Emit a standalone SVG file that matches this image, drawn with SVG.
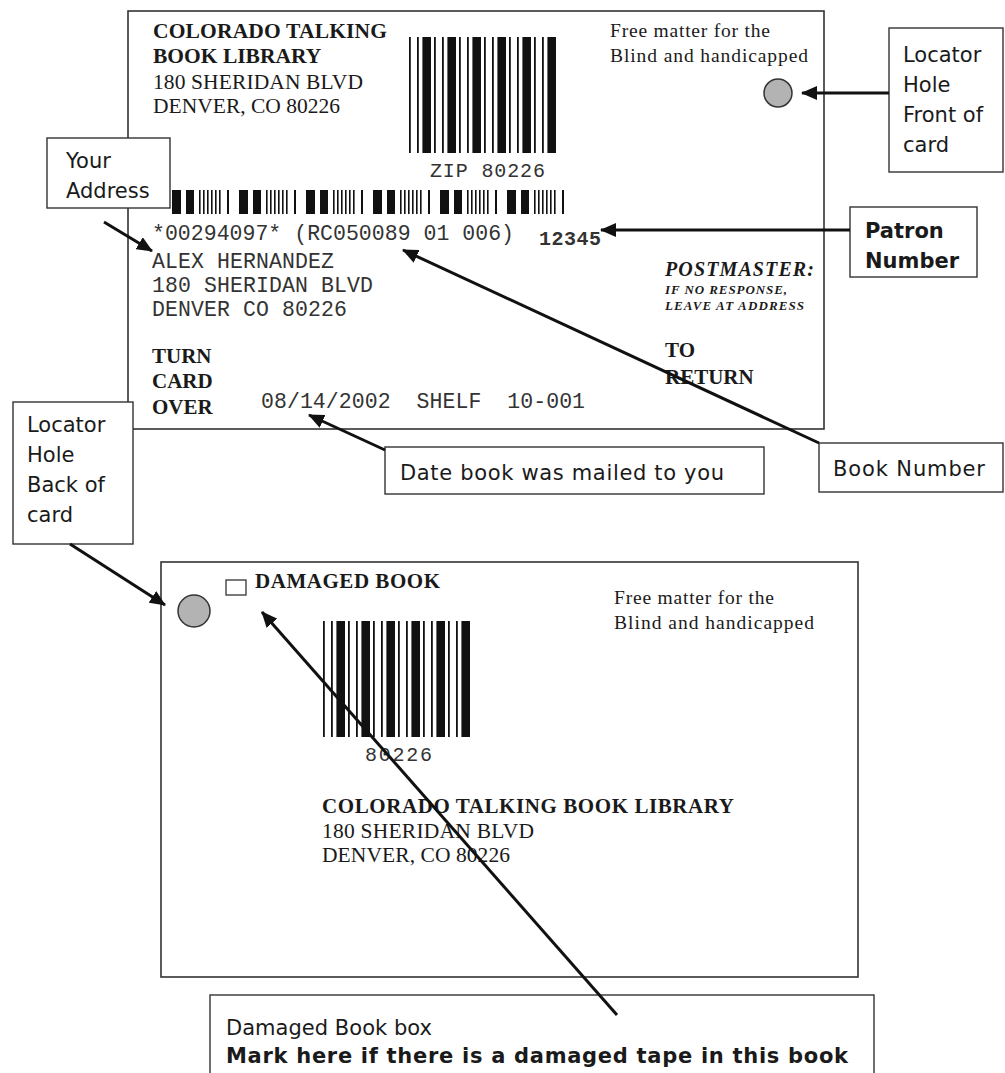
<svg xmlns="http://www.w3.org/2000/svg" xmlns:xlink="http://www.w3.org/1999/xlink" width="1005" height="1073" viewBox="0 0 1005 1073">
<style>
.card{fill:#fff;stroke:#333;stroke-width:1.6}
.box{fill:#fff;stroke:#333;stroke-width:1.4}
.serif{font-family:"Liberation Serif","Times New Roman",serif;fill:#1a1a1a}
.b{font-weight:bold}
.bi{font-weight:bold;font-style:italic}
.mono{font-family:"Liberation Mono","Courier New",monospace;fill:#333}
.sans{font-family:"DejaVu Sans","Noto Sans",sans-serif;fill:#1a1a1a;font-size:21px}
.hole{fill:#b3b3b3;stroke:#333;stroke-width:1.5}
.conn{stroke:#111;stroke-width:3;fill:none;marker-end:url(#ah)}
.bar{fill:#111}
</style>
<defs>
<marker id="ah" markerUnits="userSpaceOnUse" markerWidth="18" markerHeight="14" refX="15" refY="7" orient="auto">
<path d="M0,0 L16,7 L0,14 z" fill="#111"/>
</marker>
<g id="bc">
<rect class="bar" x="0" y="0" width="1.8" height="116"/><rect class="bar" x="8" y="0" width="1.8" height="116"/><rect class="bar" x="13.4" y="0" width="8.6" height="116"/>
<rect class="bar" x="25" y="0" width="1.8" height="116"/><rect class="bar" x="33" y="0" width="1.8" height="116"/><rect class="bar" x="38.4" y="0" width="8.6" height="116"/>
<rect class="bar" x="50" y="0" width="1.8" height="116"/><rect class="bar" x="58" y="0" width="1.8" height="116"/><rect class="bar" x="63.4" y="0" width="8.6" height="116"/>
<rect class="bar" x="75" y="0" width="1.8" height="116"/><rect class="bar" x="83" y="0" width="1.8" height="116"/><rect class="bar" x="88.4" y="0" width="8.6" height="116"/>
<rect class="bar" x="100" y="0" width="1.8" height="116"/><rect class="bar" x="108" y="0" width="1.8" height="116"/><rect class="bar" x="113.4" y="0" width="8.6" height="116"/>
<rect class="bar" x="125" y="0" width="1.8" height="116"/><rect class="bar" x="133" y="0" width="1.8" height="116"/><rect class="bar" x="138.4" y="0" width="8.6" height="116"/>
</g>
<g id="grp">
<rect class="bar" x="0" y="0" width="9" height="24"/><rect class="bar" x="14" y="0" width="8" height="24"/>
<rect class="bar" x="27" y="0" width="1.6" height="24"/><rect class="bar" x="31" y="0" width="1.6" height="24"/><rect class="bar" x="35" y="0" width="1.6" height="24"/><rect class="bar" x="39" y="0" width="1.6" height="24"/><rect class="bar" x="43" y="0" width="1.6" height="24"/><rect class="bar" x="47" y="0" width="1.6" height="24"/>
<rect class="bar" x="55" y="0" width="2" height="24"/>
</g>
</defs>

<g id="front-card">
<rect class="card" x="128" y="11" width="696" height="418"/>
<text class="serif b" x="153" y="38" font-size="21.5" textLength="234">COLORADO TALKING</text>
<text class="serif b" x="153" y="63" font-size="21.5">BOOK LIBRARY</text>
<text class="serif" x="153" y="89" font-size="21.5" textLength="210">180 SHERIDAN BLVD</text>
<text class="serif" x="153" y="113" font-size="21.5" textLength="187">DENVER, CO 80226</text>
<use xlink:href="#bc" x="409" y="37"/>
<text class="mono" x="430" y="177" font-size="20" textLength="115">ZIP 80226</text>
<use xlink:href="#grp" x="172" y="190"/>
<use xlink:href="#grp" x="239" y="190"/>
<use xlink:href="#grp" x="306" y="190"/>
<use xlink:href="#grp" x="373" y="190"/>
<use xlink:href="#grp" x="440" y="190"/>
<use xlink:href="#grp" x="507" y="190"/>
<text class="mono" x="152" y="240" font-size="21.5" textLength="362">*00294097* (RC050089 01 006)</text>
<text class="mono b" x="539" y="245" font-size="20" fill="#111" textLength="62">12345</text>
<text class="mono" x="152" y="268" font-size="21.5" textLength="182">ALEX HERNANDEZ</text>
<text class="mono" x="152" y="292" font-size="21.5" textLength="221">180 SHERIDAN BLVD</text>
<text class="mono" x="152" y="316" font-size="21.5" textLength="195">DENVER CO 80226</text>
<text class="serif b" x="152" y="363" font-size="21">TURN</text>
<text class="serif b" x="152" y="388" font-size="21">CARD</text>
<text class="serif b" x="152" y="414" font-size="21">OVER</text>
<text class="mono" x="261" y="408" font-size="21.5" textLength="324" xml:space="preserve">08/14/2002  SHELF  10-001</text>
<text class="serif" x="610" y="37" font-size="19.5" textLength="160">Free matter for the</text>
<text class="serif" x="610" y="62" font-size="19.5" textLength="198">Blind and handicapped</text>
<circle class="hole" cx="778" cy="93" r="14"/>
<text class="serif bi" x="665" y="276" font-size="20" textLength="149">POSTMASTER:</text>
<text class="serif bi" x="665" y="294" font-size="13" textLength="122">IF NO RESPONSE,</text>
<text class="serif bi" x="665" y="310" font-size="13" textLength="139">LEAVE AT ADDRESS</text>
<text class="serif b" x="665" y="357" font-size="21">TO</text>
<text class="serif b" x="665" y="384" font-size="21">RETURN</text>
</g>

<g id="back-card">
<rect class="card" x="161" y="562" width="697" height="415"/>
<circle class="hole" cx="194" cy="611" r="16"/>
<rect x="226" y="580" width="20" height="15" fill="#fff" stroke="#333" stroke-width="1.3"/>
<text class="serif b" x="255" y="588" font-size="21" textLength="185">DAMAGED BOOK</text>
<text class="serif" x="614" y="604" font-size="19.5" textLength="160">Free matter for the</text>
<text class="serif" x="614" y="629" font-size="19.5" textLength="200">Blind and handicapped</text>
<use xlink:href="#bc" x="323" y="621"/>
<text class="mono" x="365" y="761" font-size="20" textLength="67">80226</text>
<text class="serif b" x="322" y="813" font-size="21" textLength="412">COLORADO TALKING BOOK LIBRARY</text>
<text class="serif" x="322" y="838" font-size="21.5" textLength="212">180 SHERIDAN BLVD</text>
<text class="serif" x="322" y="862" font-size="21.5" textLength="188">DENVER, CO 80226</text>
</g>

<g id="label-locator-front">
<rect class="box" x="889" y="28" width="114" height="144"/>
<text class="sans" x="903" y="62">Locator</text>
<text class="sans" x="903" y="92">Hole</text>
<text class="sans" x="903" y="122">Front of</text>
<text class="sans" x="903" y="152">card</text>
</g>
<g id="label-patron">
<rect class="box" x="850" y="207" width="127" height="70"/>
<text class="sans b" x="865" y="238">Patron</text>
<text class="sans b" x="865" y="268">Number</text>
</g>
<g id="label-address">
<rect class="box" x="47" y="138" width="123" height="70"/>
<text class="sans" x="66" y="168">Your</text>
<text class="sans" x="66" y="198">Address</text>
</g>
<g id="label-book-number">
<rect class="box" x="819" y="443" width="184" height="49"/>
<text class="sans" x="833" y="476" textLength="152">Book Number</text>
</g>
<g id="label-date">
<rect class="box" x="385" y="447" width="379" height="47"/>
<text class="sans" x="400" y="480" font-size="22" textLength="324">Date book was mailed to you</text>
</g>
<g id="label-locator-back">
<rect class="box" x="13" y="402" width="120" height="142"/>
<text class="sans" x="27" y="432">Locator</text>
<text class="sans" x="27" y="462">Hole</text>
<text class="sans" x="27" y="492">Back of</text>
<text class="sans" x="27" y="522">card</text>
</g>
<g id="label-damaged">
<rect class="box" x="210" y="995" width="664" height="90"/>
<text class="sans" x="226" y="1035" textLength="206">Damaged Book box</text>
<text class="sans b" x="226" y="1063" font-size="23" textLength="622">Mark here if there is a damaged tape in this book</text>
</g>

<g id="connectors">
<line class="conn" x1="889" y1="93" x2="802" y2="93"/>
<line class="conn" x1="850" y1="230" x2="601" y2="230"/>
<line class="conn" x1="104" y1="222" x2="152" y2="251"/>
<line class="conn" x1="819" y1="443" x2="403" y2="250"/>
<line class="conn" x1="385" y1="450" x2="309" y2="415"/>
<line class="conn" x1="70" y1="544" x2="165" y2="605"/>
<line class="conn" x1="617" y1="1015" x2="262" y2="612"/>
</g>
</svg>
